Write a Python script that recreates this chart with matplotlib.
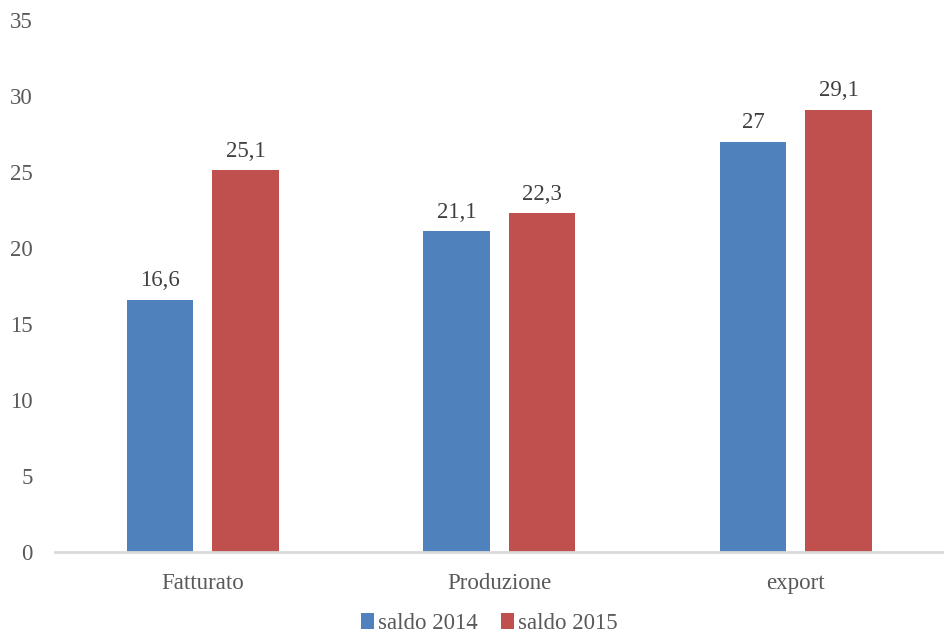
import numpy as np
import matplotlib.pyplot as plt

# Saldi per indicatore
categorie = ['Fatturato', 'Produzione', 'export']
saldo_2014 = [16.6, 21.1, 27]
saldo_2015 = [25.1, 22.3, 29.1]

plt.rcParams['font.family'] = ['Liberation Serif', 'DejaVu Serif']

fig = plt.figure(figsize=(9.44, 6.37), dpi=100)
ax = fig.add_axes([0.058, 0.1334, 0.942, 0.8352])

x = np.arange(len(categorie))
w = 0.224
off = 0.144
b1 = ax.bar(x - off, saldo_2014, w, color='#4F81BD', label='saldo 2014')
b2 = ax.bar(x + off, saldo_2015, w, color='#C0504D', label='saldo 2015')

# etichette dei valori con la virgola decimale
def fmt(v):
    return ('%g' % v).replace('.', ',')

for bars, vals in ((b1, saldo_2014), (b2, saldo_2015)):
    for b, v in zip(bars, vals):
        ax.annotate(fmt(v), (b.get_x() + b.get_width() / 2, v),
                    xytext=(0, 6), textcoords='offset points',
                    ha='center', va='bottom', fontsize=16.5, color='#404040')

ax.set_xlim(-0.5, 2.5)
ax.set_ylim(0, 35)
ax.set_yticks(np.arange(0, 36, 5))
ax.set_xticks(x)
ax.set_xticklabels(categorie)
ax.tick_params(axis='both', length=0, labelsize=16.5, labelcolor='#595959')
ax.tick_params(axis='y', pad=16)
ax.tick_params(axis='x', pad=15)

for s in ('top', 'right', 'left'):
    ax.spines[s].set_visible(False)
ax.spines['bottom'].set_color('#D9D9D9')
ax.spines['bottom'].set_linewidth(2)

leg = fig.legend(loc='lower center', bbox_to_anchor=(0.518, -0.028), ncol=2,
                 frameon=False, fontsize=16.5, handlelength=0.6, handleheight=0.7,
                 handletextpad=0.15, columnspacing=1.0)
for t in leg.get_texts():
    t.set_color('#595959')

fig.savefig('out.png', dpi=100)
